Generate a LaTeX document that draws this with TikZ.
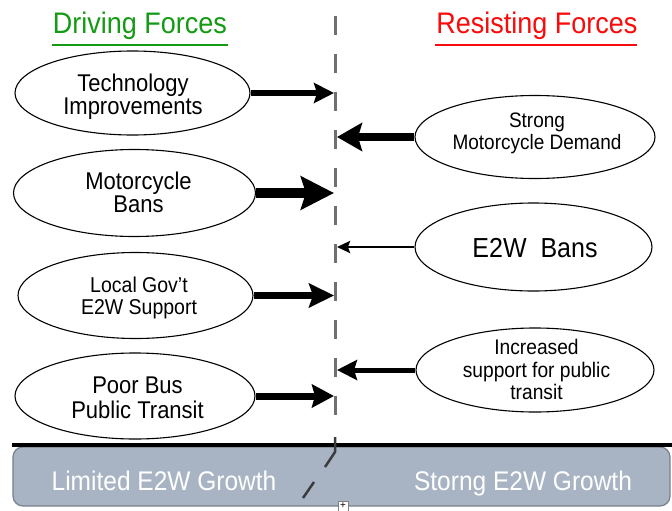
\documentclass[tikz,border=0pt]{standalone}
\usepackage{fontspec}
\setmainfont{Liberation Sans}
\usetikzlibrary{arrows.meta,shapes.geometric}
\definecolor{hdrgreen}{RGB}{20,155,20}
\definecolor{hdrred}{RGB}{250,10,10}
\definecolor{barfill}{RGB}{168,180,196}
\definecolor{barline}{RGB}{120,128,140}
\definecolor{dashgray}{RGB}{112,112,112}
\definecolor{breakgray}{RGB}{60,60,60}
\newcommand{\vs}[1]{\scalebox{1}[1.1]{\begin{tabular}{@{}c@{}}#1\end{tabular}}}
\tikzset{
  ell/.style={ellipse, draw=black, line width=1.1pt, fill=white, inner sep=0pt},
  txt/.style={inner sep=0pt, text=black},
  hdr/.style={inner sep=0pt, font=\fontsize{27}{27}\selectfont},
  bartxt/.style={inner sep=0pt, text=white, font=\fontsize{24.5}{26}\selectfont},
  force/.style={draw=black, line cap=butt},
}
\begin{document}
\begin{tikzpicture}[x=1pt,y=-1pt]
\useasboundingbox (0,0) rectangle (672,511);
\fill[white] (0,0) rectangle (672,511);

% headers
\node[hdr, text=hdrgreen] (dh) at (140,27) {\vs{Driving Forces}};
\node[hdr, text=hdrred] (rh) at (537,27) {\vs{Resisting Forces}};
\draw[hdrgreen, line width=2pt] (52,45) -- (228,45);
\draw[hdrred, line width=2pt] (435,45) -- (637,45);

% dashed divider
\coordinate (DT) at (335,16);
\coordinate (DB) at (335,420);
\draw[dashgray, line width=3pt, dash pattern=on 19pt off 19pt] (DT) -- (DB);
\coordinate (DL) at (334,0);
\coordinate (DR) at (337,0);

% left ellipses
\node[ell, minimum width=235pt, minimum height=84pt] (L1) at (132.5,93) {};
\node[ell, minimum width=242pt, minimum height=87pt] (L2) at (134.5,193) {};
\node[ell, minimum width=235pt, minimum height=86pt] (L3) at (135.5,295.5) {};
\node[ell, minimum width=240pt, minimum height=86pt] (L4) at (135,396) {};
% right ellipses
\node[ell, minimum width=240pt, minimum height=83pt] (R1) at (535,137) {};
\node[ell, minimum width=237pt, minimum height=88pt] (R2) at (533.5,247) {};
\node[ell, minimum width=238pt, minimum height=84pt] (R3) at (535,370) {};

% texts
\node[txt, font=\fontsize{22}{21}\selectfont] (t1) at (133,97.5) {\vs{Technology\\Improvements}};
\node[txt, font=\fontsize{22}{21}\selectfont] (t2) at (138.5,195.5) {\vs{Motorcycle\\Bans}};
\node[txt, font=\fontsize{19.5}{20}\selectfont] (t3) at (139,299) {\vs{Local Gov’t\\E2W Support}};
\node[txt, font=\fontsize{22}{21}\selectfont] (t4) at (137.5,401) {\vs{Poor Bus\\Public Transit}};
\node[txt, font=\fontsize{19}{19.5}\selectfont] (t5) at (537,134) {\vs{Strong\\Motorcycle Demand}};
\node[txt, font=\fontsize{25}{25}\selectfont] (t6) at (535,252) {\vs{E2W\ \ Bans}};
\node[txt, font=\fontsize{19.2}{20.5}\selectfont] (t7) at (536.5,372.5) {\vs{Increased\\support for public\\transit}};

% force arrows
\draw[force, line width=6pt, -{Stealth[length=20pt,width=20pt,inset=3pt]}] (L1.east) -- (L1.east -| DL);
\draw[force, line width=10pt, -{Stealth[length=33pt,width=33pt,inset=5pt]}] (L2.east) -- (L2.east -| DL);
\draw[force, line width=6.5pt, -{Stealth[length=25pt,width=24pt,inset=4pt]}] (L3.east) -- (L3.east -| DL);
\draw[force, line width=7pt, -{Stealth[length=22pt,width=23pt,inset=3pt]}] (L4.east) -- (L4.east -| DL);
\draw[force, line width=8pt, -{Stealth[length=25pt,width=28pt,inset=4pt]}] (R1.west) -- (R1.west -| DR);
\draw[force, line width=2.5pt, -{Stealth[length=13pt,width=12pt,inset=2pt]}] (R2.west) -- (R2.west -| DR);
\draw[force, line width=5pt, -{Stealth[length=20pt,width=20pt,inset=3pt]}] (R3.west) -- (R3.west -| DR);

% outcome bar
\node[draw=barline, fill=barfill, rounded corners=10pt, line width=1.2pt,
      minimum width=657pt, minimum height=59pt, inner sep=0pt] (bar) at (341.5,476.5) {};
\draw[black, line width=4pt] (12,445) -- (672,445);
\node[bartxt] (lim) at (164,485) {\vs{Limited E2W Growth}};
\node[bartxt] (str) at (523,485) {\vs{Storng E2W Growth}};
\coordinate (B1) at (335,437);
\coordinate (B2) at (335,452);
\coordinate (B3) at (325,467);
\coordinate (B4) at (314,482);
\coordinate (B5) at (303,498);
\draw[breakgray, line width=2.5pt] (B1) -- (B2) -- (B3);
\draw[breakgray, line width=2.5pt] (B4) -- (B5);
\node[draw=gray, fill=white, minimum size=10pt, inner sep=0pt, line width=0.7pt,
      font=\fontsize{10}{10}\selectfont] (handle) at (343,506) {+};
\end{tikzpicture}
\end{document}
